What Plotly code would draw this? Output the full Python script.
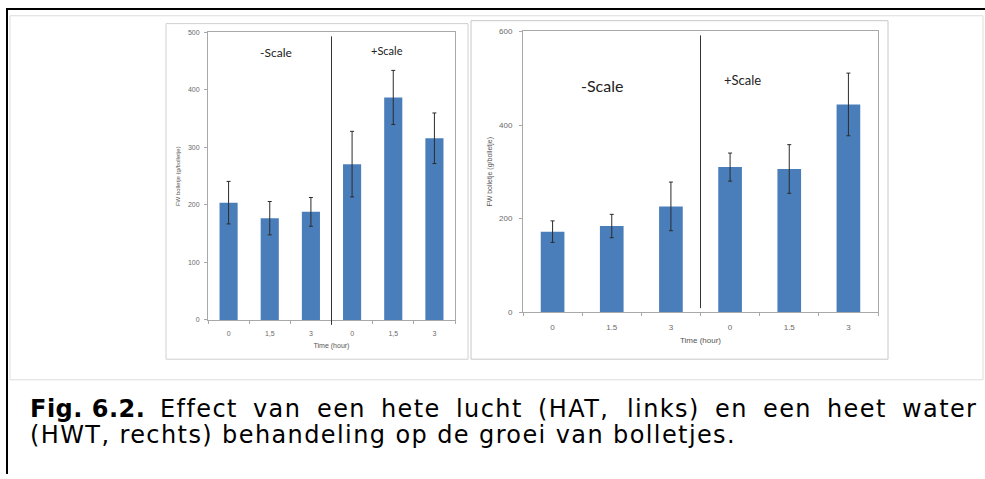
import plotly.graph_objects as go

W, H = 985, 479

# ---------------- data ----------------
categories = ["0", "1.5", "3", "0", "1.5", "3"]
left_ticktext = ["0", "1,5", "3", "0", "1,5", "3"]
right_ticktext = ["0", "1.5", "3", "0", "1.5", "3"]

hat_values = [204, 177, 188, 271, 387, 316]
hat_errors = [37, 29, 25, 57, 47, 44]

hwt_values = [172, 184, 226, 310, 306, 444]
hwt_errors = [23, 25, 52, 30, 52, 67]

left_yticks = [0, 100, 200, 300, 400, 500]
right_yticks = [0, 200, 400, 600]

BAR = "#4A7EBB"


def px(x):
    return x / W


def py(y):
    return 1 - y / H


xpos = list(range(len(categories)))

fig = go.Figure()
fig.add_trace(go.Bar(
    x=xpos, y=hat_values, width=0.44, marker=dict(color=BAR, line=dict(width=0)),
    error_y=dict(type="data", array=hat_errors, visible=True, color="#2b2b2b",
                 thickness=1, width=2),
    xaxis="x", yaxis="y", showlegend=False))
fig.add_trace(go.Bar(
    x=xpos, y=hwt_values, width=0.40, marker=dict(color=BAR, line=dict(width=0)),
    error_y=dict(type="data", array=hwt_errors, visible=True, color="#2b2b2b",
                 thickness=1, width=2),
    xaxis="x2", yaxis="y2", showlegend=False))

tickfont_l = dict(family="Liberation Sans, Arial", size=7, color="#6a6a6a")
tickfont_r = dict(family="Liberation Sans, Arial", size=8, color="#6a6a6a")

common_x = dict(range=[-0.5, 5.5], tickmode="array", showgrid=False, zeroline=False,
                showline=True, linecolor="#a8a8a8", linewidth=1, mirror=True,
                ticks="", fixedrange=True,
                minor=dict(tickmode="array", tickvals=[-0.5, 0.5, 1.5, 2.5, 3.5, 4.5, 5.5],
                           ticks="outside", ticklen=3, tickcolor="#a8a8a8"))
common_y = dict(showgrid=False, zeroline=False, showline=True, linecolor="#a8a8a8",
                linewidth=1, mirror=True, ticks="outside", ticklen=3,
                tickcolor="#a8a8a8", fixedrange=True)

fig.update_layout(
    width=W, height=H, margin=dict(l=0, r=0, t=0, b=0),
    paper_bgcolor="white", plot_bgcolor="white", barmode="overlay",
    xaxis=dict(common_x, domain=[px(208), px(455)], tickvals=xpos,
               ticktext=left_ticktext, tickfont=tickfont_l, anchor="y",
               ticklabelstandoff=7,
               title=dict(text="Time (hour)", standoff=6,
                          font=dict(family="Liberation Sans, Arial", size=7, color="#555"))),
    yaxis=dict(common_y, domain=[py(322), py(29)], range=[0, 500],
               tickvals=left_yticks, tickfont=tickfont_l, anchor="x",
               ticklabelstandoff=3,
               title=dict(text="FW bolletje (g/bolletje)", standoff=6,
                          font=dict(family="Liberation Sans, Arial", size=6, color="#555"))),
    xaxis2=dict(common_x, domain=[px(523), px(878)], tickvals=xpos,
                ticktext=right_ticktext, tickfont=tickfont_r, anchor="y2",
                ticklabelstandoff=7,
                title=dict(text="Time (hour)", standoff=6,
                           font=dict(family="Liberation Sans, Arial", size=8, color="#555"))),
    yaxis2=dict(common_y, domain=[py(314), py(28)], range=[0, 600],
                tickvals=right_yticks, tickfont=tickfont_r, anchor="x2",
                ticklabelstandoff=5,
                title=dict(text="FW bolletje (g/bolletje)", standoff=5,
                           font=dict(family="Liberation Sans, Arial", size=7, color="#555"))),
)

shapes = []
# black page frame
shapes.append(dict(type="line", xref="paper", yref="paper", x0=px(6), x1=1, y0=py(5), y1=py(5),
                   line=dict(color="black", width=2)))
shapes.append(dict(type="line", xref="paper", yref="paper", x0=px(7), x1=px(7), y0=py(5), y1=0,
                   line=dict(color="black", width=2)))
# light page box
shapes.append(dict(type="rect", xref="paper", yref="paper", x0=px(10), x1=px(983),
                   y0=py(383), y1=py(12), line=dict(color="#dcdcdc", width=1)))
# chart areas
shapes.append(dict(type="rect", xref="paper", yref="paper", x0=px(166), x1=px(468),
                   y0=py(362), y1=py(20), line=dict(color="#d0d0d0", width=1)))
shapes.append(dict(type="rect", xref="paper", yref="paper", x0=px(471), x1=px(888),
                   y0=py(362), y1=py(17), line=dict(color="#c8c8c8", width=1)))
# dividers between -Scale and +Scale
shapes.append(dict(type="line", xref="x", yref="paper", x0=2.5, x1=2.5, y0=py(327), y1=py(33),
                   line=dict(color="#333333", width=1)))
shapes.append(dict(type="line", xref="x2", yref="paper", x0=2.5, x1=2.5, y0=py(310), y1=py(32),
                   line=dict(color="#333333", width=1)))
fig.update_layout(shapes=shapes)

ann = []
lab = dict(family="Lato, Open Sans, sans-serif", color="#222")
ann.append(dict(text="-Scale", x=px(258), y=py(49), font=dict(lab, size=12)))
ann.append(dict(text="+Scale", x=px(387), y=py(47), font=dict(lab, size=11)))
ann.append(dict(text="-Scale", x=px(602), y=py(83), font=dict(lab, size=16)))
ann.append(dict(text="+Scale", x=px(763), y=py(77), font=dict(lab, size=13)))

# caption; line 1 is justified, so each word starts at an evenly spread position
cap = dict(family="DejaVu Sans, Verdana", size=24, color="black")
LS = '<span style="letter-spacing:1.4px">{}</span>'
Y1, Y2 = 413, 439
ann.append(dict(text='<span style="letter-spacing:0.5px"><b>Fig. 6.2.</b></span>',
                x=px(28), y=py(Y1), xanchor="left", font=cap))
line1 = [("Effect", 158), ("van", 251), ("een", 315), ("hete", 379), ("lucht", 454),
         ("(HAT,", 536), ("links)", 625), ("en", 713), ("een", 761), ("heet", 825),
         ("water", 900)]
for word, x in line1:
    ann.append(dict(text=LS.format(word), x=px(x), y=py(Y1), xanchor="left", font=cap))
ann.append(dict(text=LS.format("(HWT, rechts) behandeling op de groei van bolletjes."),
                x=px(28), y=py(Y2), xanchor="left", font=cap))
for a in ann:
    a.setdefault("xref", "paper")
    a.setdefault("yref", "paper")
    a.setdefault("showarrow", False)
    a.setdefault("yanchor", "middle")
fig.update_layout(annotations=ann)

fig.write_html("out.html")
